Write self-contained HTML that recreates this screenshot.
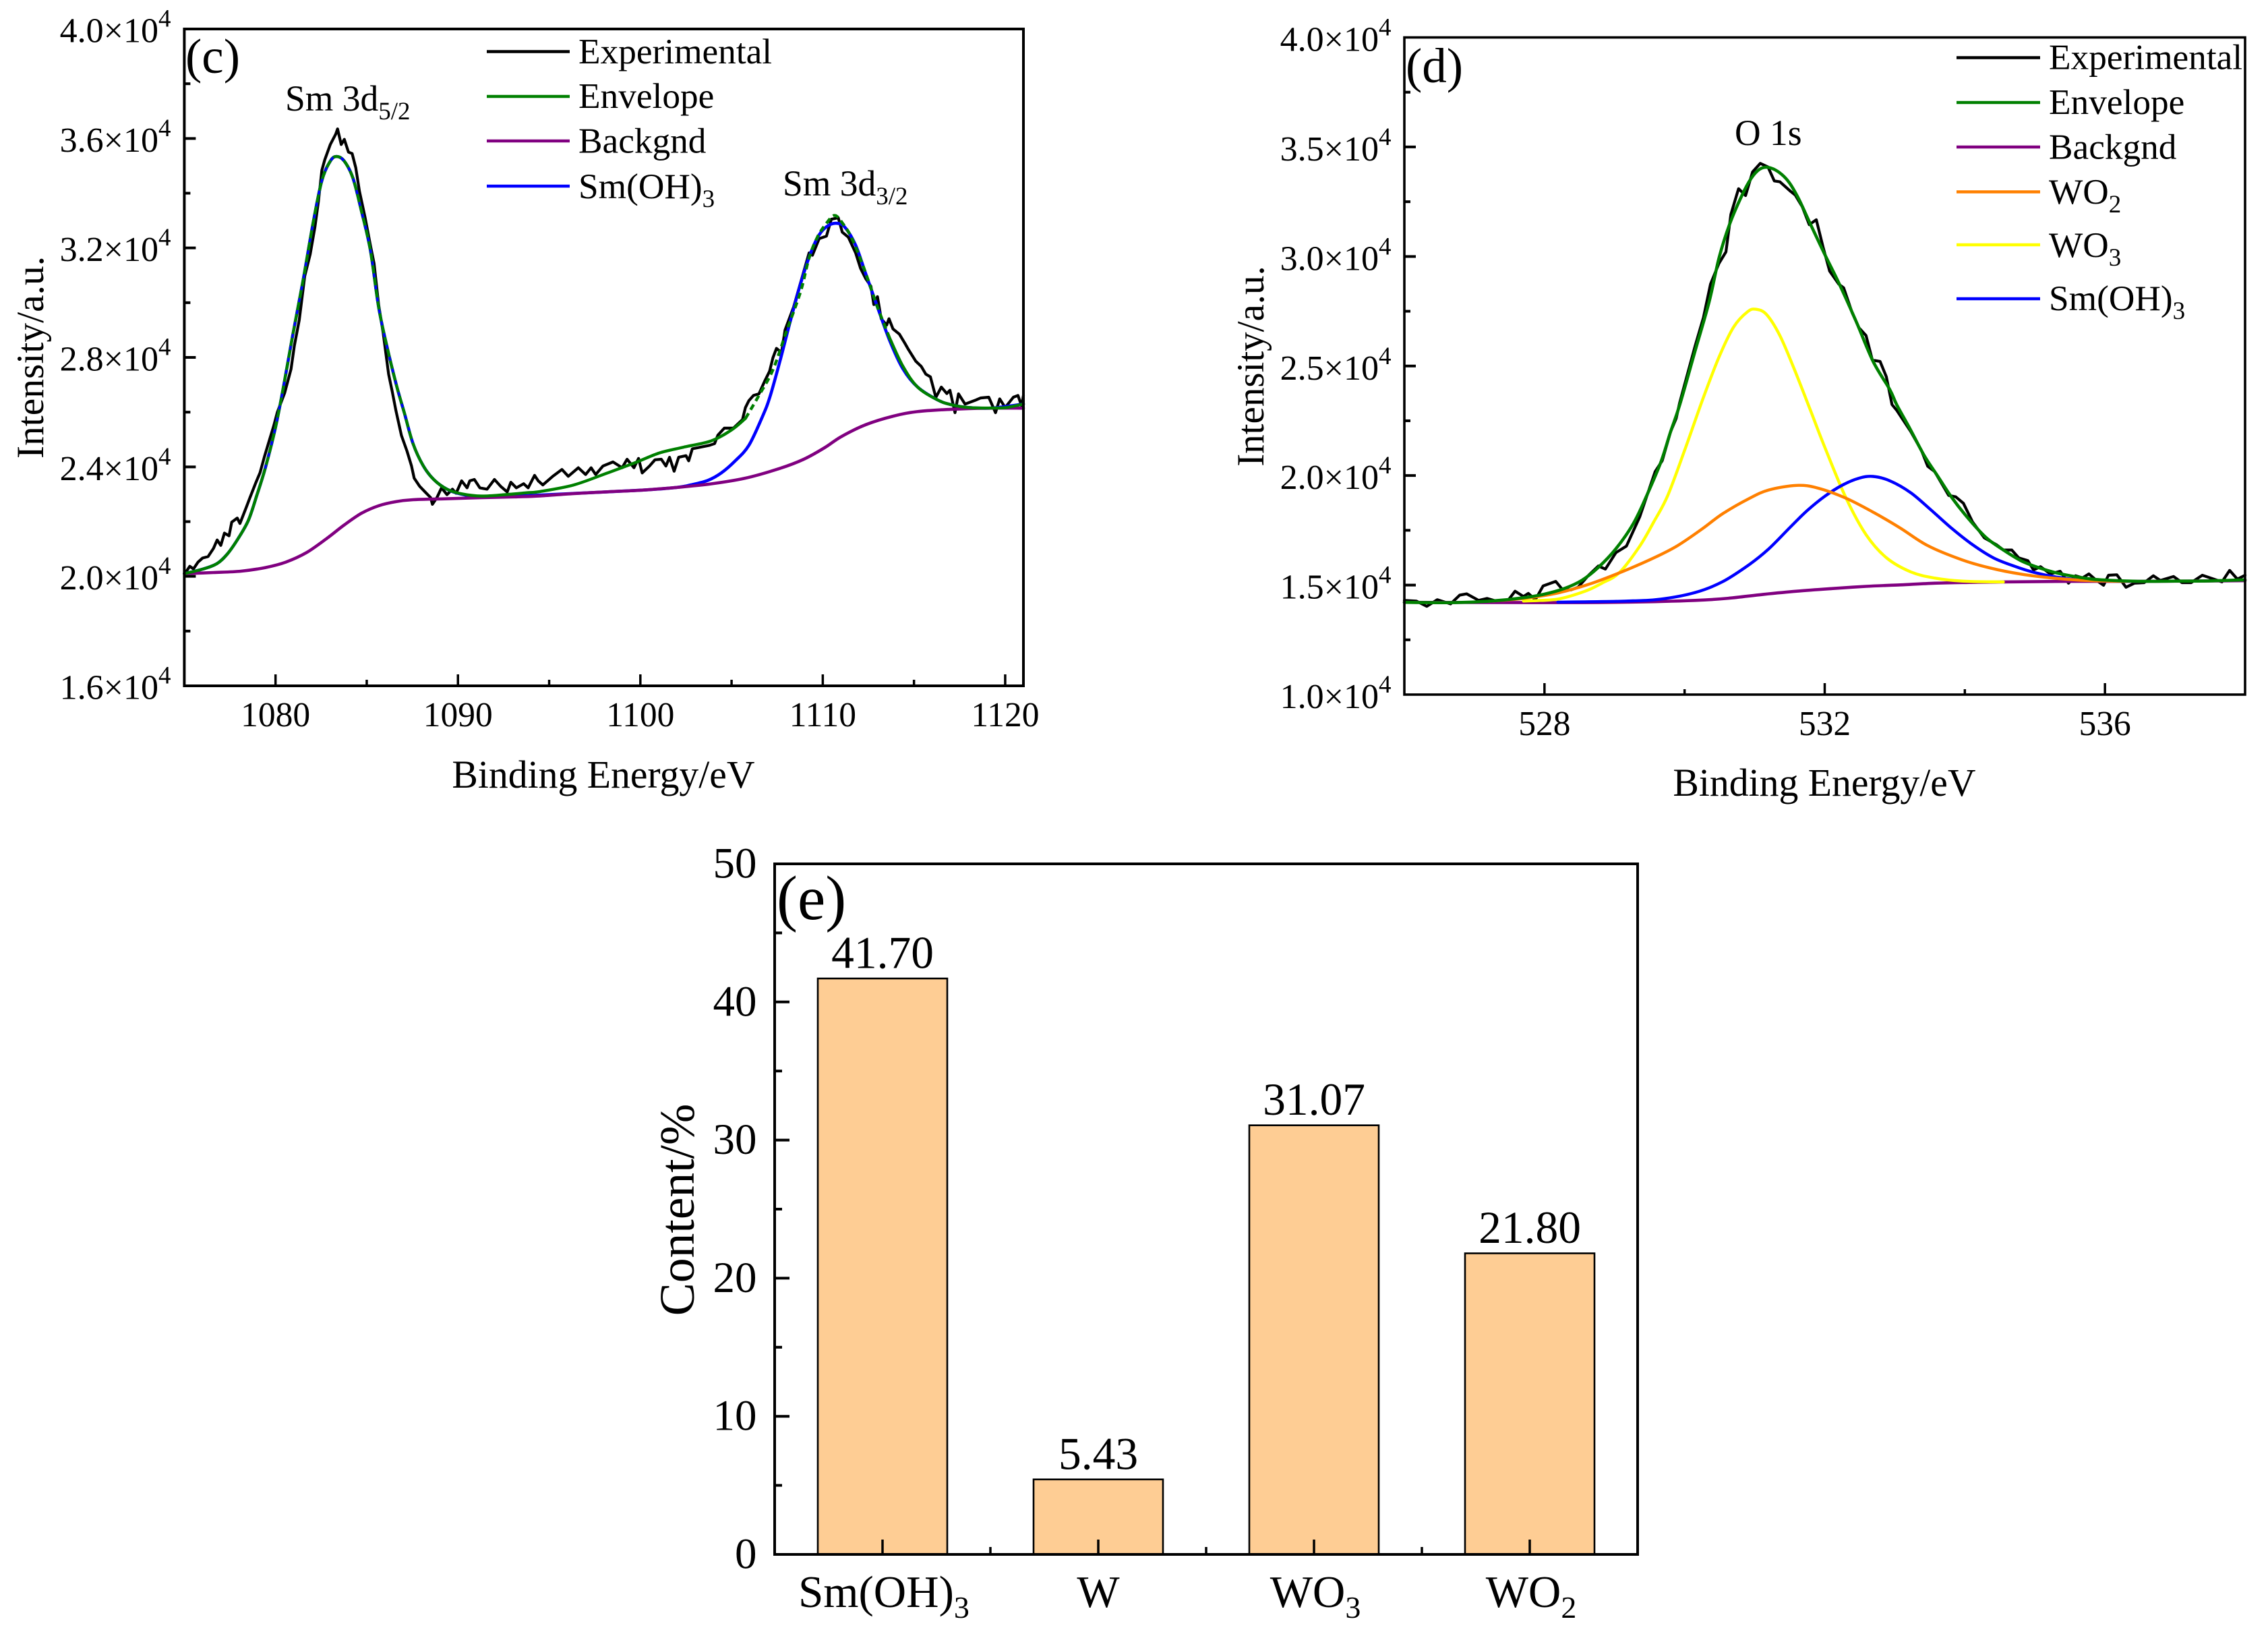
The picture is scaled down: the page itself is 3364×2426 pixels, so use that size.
<!DOCTYPE html>
<html lang="en">
<head>
<meta charset="utf-8">
<title>XPS spectra and composition</title>
<style>
html,body{margin:0;padding:0;background:#fff;}
svg{display:block;}
text{font-family:"Liberation Serif","DejaVu Serif",serif;fill:#000;}
</style>
</head>
<body>
<svg id="fig" xmlns="http://www.w3.org/2000/svg" width="3364" height="2426" viewBox="0 0 3364 2426">
  <rect width="3364" height="2426" fill="#fff"/>
  <g id="panel-c"></g>
  <g id="panel-d"></g>
  <g id="panel-e"></g>

  <g>
    <text x="275" y="108" font-size="73">(c)</text>
    <text x="895" y="1168" font-size="57.7" text-anchor="middle">Binding Energy/eV</text>
    <text transform="translate(64,530) rotate(-90)" font-size="57.5" text-anchor="middle">Intensity/a.u.</text>
    <text x="423" y="164" font-size="53.5">Sm 3d<tspan font-size="37" dy="13">5/2</tspan></text>
    <text x="1161" y="290" font-size="53.5">Sm 3d<tspan font-size="37" dy="13">3/2</tspan></text>
    <g>
      <line x1="722" x2="845" y1="76.5" y2="76.5" stroke="#000" stroke-width="4.4"/>
      <text x="858" y="94" font-size="53.3">Experimental</text>
      <line x1="722" x2="845" y1="143" y2="143" stroke="#008000" stroke-width="4.4"/>
      <text x="858" y="160" font-size="53.3">Envelope</text>
      <line x1="722" x2="845" y1="209" y2="209" stroke="#800080" stroke-width="4.4"/>
      <text x="858" y="226.5" font-size="53.3">Backgnd</text>
      <line x1="722" x2="845" y1="276" y2="276" stroke="#0000ff" stroke-width="4.4"/>
      <text x="858" y="294" font-size="53.3">Sm(OH)<tspan font-size="37" dy="13">3</tspan></text>
    </g>
  </g>

  <g>
    <text x="2085" y="122" font-size="73">(d)</text>
    <text x="2706" y="1180" font-size="57.7" text-anchor="middle">Binding Energy/eV</text>
    <text transform="translate(1874,543) rotate(-90)" font-size="57" text-anchor="middle">Intensity/a.u.</text>
    <text x="2573" y="215" font-size="53.5">O 1s</text>
    <g>
      <line x1="2902" x2="3026" y1="85.5" y2="85.5" stroke="#000" stroke-width="4.4"/>
      <text x="3039" y="102.5" font-size="53.3">Experimental</text>
      <line x1="2902" x2="3026" y1="152" y2="152" stroke="#008000" stroke-width="4.4"/>
      <text x="3039" y="169" font-size="53.3">Envelope</text>
      <line x1="2902" x2="3026" y1="218" y2="218" stroke="#800080" stroke-width="4.4"/>
      <text x="3039" y="235.5" font-size="53.3">Backgnd</text>
      <line x1="2902" x2="3026" y1="284.5" y2="284.5" stroke="#ff8000" stroke-width="4.4"/>
      <text x="3039" y="302" font-size="53.3">WO<tspan font-size="37" dy="13">2</tspan></text>
      <line x1="2902" x2="3026" y1="363" y2="363" stroke="#ffff00" stroke-width="4.4"/>
      <text x="3039" y="381" font-size="53.3">WO<tspan font-size="37" dy="13">3</tspan></text>
      <line x1="2902" x2="3026" y1="443" y2="443" stroke="#0000ff" stroke-width="4.4"/>
      <text x="3039" y="460" font-size="53.3">Sm(OH)<tspan font-size="37" dy="13">3</tspan></text>
    </g>
  </g>

  <g>
    <text x="1152" y="1363" font-size="93">(e)</text>
    <text transform="translate(1029,1794) rotate(-90)" font-size="73.5" text-anchor="middle">Content/%</text>
  </g>
</svg>

<script>
/* ---------- Panel (c) data: Sm 3d ---------- */
const cYTicks = [16000,20000,24000,28000,32000,36000,40000];
const cYMinorTicks = [18000,22000,26000,30000,34000,38000];
const cYTickLabels = ["1.6","2.0","2.4","2.8","3.2","3.6","4.0"];
const cXTicks = [1080,1090,1100,1110,1120];
const cXMinorTicks = [1085,1095,1105,1115];
const cExperimentalX = [1075.1,1075.3,1075.5,1075.75,1076,1076.3,1076.6,1076.8,1077,1077.2,1077.45,1077.6,1077.9,1078.05,1078.4,1078.6,1078.9,1079.15,1079.4,1079.6,1079.9,1080.1,1080.5,1080.85,1081.03,1081.3,1081.6,1081.9,1082.16,1082.35,1082.54,1082.7,1083,1083.3,1083.4,1083.6,1083.77,1084,1084.2,1084.4,1084.6,1084.9,1085.2,1085.4,1085.65,1085.9,1086.2,1086.4,1086.6,1086.9,1087.2,1087.45,1087.6,1087.9,1088.2,1088.5,1088.6,1088.85,1089.1,1089.4,1089.7,1089.9,1090.2,1090.5,1090.65,1090.9,1091.2,1091.6,1092,1092.35,1092.7,1092.9,1093.2,1093.6,1093.85,1094.2,1094.4,1094.65,1095.2,1095.7,1096.05,1096.6,1097,1097.3,1097.55,1097.95,1098.5,1099,1099.27,1099.65,1099.9,1100.1,1100.5,1100.8,1101.15,1101.4,1101.6,1101.85,1102.1,1102.5,1102.65,1102.85,1103.3,1103.8,1104.07,1104.25,1104.6,1105.1,1105.6,1105.76,1105.95,1106.2,1106.5,1106.8,1107.08,1107.27,1107.46,1107.74,1107.93,1108.4,1109.25,1109.43,1109.8,1110.2,1110.47,1110.85,1111.07,1111.4,1111.8,1112.07,1112.35,1112.64,1112.8,1113,1113.2,1113.5,1113.63,1113.85,1114.2,1114.5,1114.7,1115.1,1115.4,1115.65,1115.9,1116.2,1116.5,1116.8,1116.97,1117.25,1117.44,1117.8,1118.4,1118.66,1119.1,1119.47,1119.7,1120,1120.45,1120.7,1120.9,1121];
const cExperimentalY = [20170,20370,20270,20520,20670,20720,21025,21330,21130,21580,21480,21980,22130,21930,22530,22880,23390,23790,24390,24840,25500,26000,26700,27575,28425,29370,30970,31770,32760,33700,34840,35220,35780,36160,36350,35780,35970,35500,35450,34930,34080,33140,32100,31440,29930,28900,27390,26750,26050,25150,24590,24040,23590,23290,23085,22880,22630,22880,23235,22985,23185,23035,23490,23235,23490,23540,23235,23185,23540,23285,23085,23440,23235,23385,23235,23690,23490,23340,23655,23905,23655,23970,23720,23970,23720,24030,24180,23970,24280,23970,24310,23780,24030,24260,24280,24030,24350,23840,24350,24410,24220,24660,24720,24790,24850,25160,25415,25415,25730,26170,26420,26610,26670,27110,27490,27990,28330,28180,29000,29840,31820,31730,32340,32430,33050,33100,32575,32390,31820,31255,30880,30600,29930,30220,29415,29180,29415,29040,28850,28520,28285,27860,27670,27390,27290,26540,26915,26680,26800,25980,26670,26295,26445,26520,26545,25980,26485,26170,26545,26610,26230,26610];
const cEnvelopeX = [1075,1076.04,1076.8,1077.36,1077.9,1078.5,1078.96,1079.43,1080,1080.47,1080.94,1081.5,1082.07,1082.54,1083,1083.35,1083.77,1084.24,1084.7,1085.2,1085.65,1086.1,1086.6,1087.07,1087.54,1088.1,1088.67,1089.4,1090.2,1091.3,1092.6,1093.76,1094.5,1096.35,1098.2,1099.74,1101.05,1102.37,1103.88,1105,1105.76,1106.5,1107.27,1108,1108.78,1109.25,1109.7,1110.2,1110.66,1111.13,1111.6,1112.26,1113,1113.67,1114.4,1115.2,1116.3,1117.06,1118,1119.3,1120.07,1121];
const cEnvelopeY = [20100,20270,20470,20820,21330,22030,22930,23940,25450,27055,28800,30780,32950,34460,35170,35340,35170,34560,33380,31915,29840,28425,27055,25950,24845,24040,23540,23185,23015,22935,22985,23055,23100,23340,23780,24160,24510,24720,24950,25350,25770,26610,27550,28934,30400,31630,32390,32900,33190,32860,32340,31255,29840,28700,27670,26915,26445,26270,26170,26150,26170,26295];
const cBackgndX = [1075,1076.6,1078.1,1079.43,1080.56,1081.7,1082.8,1083.77,1084.7,1085.65,1086.6,1087.54,1089.4,1091.3,1093.2,1094.5,1096.35,1098.2,1100.1,1102,1103.88,1105.76,1107.65,1108.96,1110.1,1111,1112.35,1113.86,1115.18,1117.06,1118.95,1121];
const cBackgndY = [20100,20140,20190,20320,20520,20870,21380,21880,22300,22580,22730,22800,22835,22875,22905,22940,23025,23090,23150,23250,23380,23590,23945,24280,24700,25100,25540,25855,26020,26105,26145,26145];
const cSmOHX = [1075,1076.04,1076.8,1077.36,1077.9,1078.5,1078.96,1079.43,1080,1080.47,1080.94,1081.5,1082.07,1082.54,1083,1083.35,1083.77,1084.24,1084.7,1085.2,1085.65,1086.1,1086.6,1087.07,1087.54,1088.1,1088.67,1089.4,1090.2,1091.3,1093.2,1096.35,1100.1,1102,1102.75,1103.7,1104.44,1105.2,1105.95,1106.7,1107.1,1107.65,1108.2,1108.78,1109.34,1109.8,1110.28,1110.75,1111.2,1111.8,1112.35,1113,1113.67,1114.4,1115.2,1116.3,1117.06,1118,1119.3,1121];
const cSmOHY = [20100,20270,20470,20820,21330,22030,22930,23940,25450,27055,28800,30780,32950,34460,35170,35340,35170,34560,33380,31915,29840,28425,27055,25950,24845,24040,23540,23185,23000,22900,22930,23030,23150,23250,23340,23505,23780,24220,24790,25850,26550,27860,29275,30690,31820,32480,32810,32900,32765,32100,31065,29840,28610,27575,26915,26445,26270,26170,26150,26295];

/* ---------- Panel (d) data: O 1s ---------- */
const dYTicks = [10000,15000,20000,25000,30000,35000,40000];
const dYMinorTicks = [12500,17500,22500,27500,32500,37500];
const dYTickLabels = ["1.0","1.5","2.0","2.5","3.0","3.5","4.0"];
const dXTicks = [528,532,536];
const dXMinorTicks = [530,534];
const dExperimentalX = [526,526.17,526.32,526.47,526.66,526.79,526.89,527.06,527.18,527.35,527.48,527.58,527.7,527.77,527.87,527.98,528.16,528.26,528.38,528.48,528.63,528.77,528.87,529.02,529.17,529.36,529.58,529.68,529.8,529.88,529.93,530.15,530.27,530.37,530.49,530.59,530.66,530.77,530.87,530.97,531.08,531.19,531.28,531.36,531.51,531.58,531.68,531.78,531.88,531.98,532.07,532.2,532.27,532.39,532.49,532.59,532.68,532.79,532.88,532.96,533.03,533.23,533.38,533.47,533.57,533.77,533.87,533.98,534.11,534.28,534.45,534.55,534.67,534.77,534.9,534.98,535.08,535.22,535.36,535.48,535.58,535.68,535.77,535.88,535.98,536.05,536.17,536.3,536.42,536.56,536.69,536.79,536.98,537.1,537.23,537.39,537.67,537.78,537.89,538];
const dExperimentalY = [14300,14270,14030,14330,14140,14540,14600,14300,14390,14235,14300,14720,14480,14620,14330,14960,15170,14780,14780,14900,15450,15870,15730,16480,16780,18120,20180,20670,22000,22610,23330,25920,27220,28740,29680,30210,31920,33095,32780,33860,34250,34090,33450,33410,32980,32800,32270,31450,31680,30390,29330,28740,28570,27450,26740,26390,25270,25210,24510,23240,22970,22000,21150,20420,20180,19090,19030,18730,17880,17150,16845,16600,16600,16240,16115,15690,15840,15510,15630,15085,15425,15330,15510,15210,14990,15450,15470,14900,15085,15110,15425,15210,15390,15110,15110,15450,15145,15670,15270,15450];
const dEnvelopeX = [526,526.7,527.2,527.7,527.99,528.28,528.53,528.77,529.02,529.27,529.46,529.66,529.8,529.93,530.15,530.35,530.49,530.64,530.82,530.95,531.07,531.19,531.34,531.49,531.63,531.8,532,532.2,532.44,532.69,532.93,533.03,533.23,533.42,533.62,533.82,534.06,534.31,534.55,534.8,535.04,535.29,535.53,535.82,536.12,536.51,537,537.49,538];
const dEnvelopeY = [14210,14200,14260,14420,14580,14840,15210,15810,16660,17815,19090,20600,22000,23220,25690,27920,29920,31450,32800,33565,33980,34070,33860,33390,32620,31450,30100,28800,27100,25215,23920,23220,22060,20910,19940,18970,18000,17150,16600,16115,15810,15570,15410,15270,15210,15170,15180,15190,15240];
const dBackgndX = [526,528.19,529.17,530.15,530.63,531.12,531.6,532.1,532.59,533.08,533.57,534.06,534.55,535.53,536.51,538];
const dBackgndY = [14210,14200,14220,14300,14400,14575,14720,14840,14940,15010,15085,15120,15145,15170,15170,15200];
const dWO2X = [527.2,527.7,528.19,528.68,529.17,529.6,529.9,530.25,530.54,530.92,531.2,531.6,531.9,532.3,532.69,533.08,533.47,533.96,534.36,534.8,535.29,535.78,536.3];
const dWO2Y = [14260,14390,14640,15085,15690,16300,16800,17560,18250,18950,19340,19550,19430,18970,18330,17600,16800,16150,15780,15500,15310,15200,15170];
const dWO3X = [527.7,528.19,528.58,528.82,529.07,529.36,529.56,529.76,530,530.25,530.49,530.7,530.9,531.02,531.17,531.36,531.56,531.8,532,532.3,532.59,532.88,533.23,533.57,533.96,534.55];
const dWO3Y = [14270,14360,14720,15085,15570,16780,17880,19090,21150,23400,25400,26780,27480,27590,27350,26390,24900,22950,21300,19000,17300,16250,15600,15320,15180,15145];
const dSmOHX = [528.19,529.17,529.66,530.15,530.54,530.92,531.2,531.51,531.75,532,532.25,532.49,532.69,532.93,533.23,533.52,533.82,534.11,534.41,534.7,535,535.34,535.73,536.3];
const dSmOHY = [14220,14270,14360,14660,15150,15930,16650,17650,18400,19050,19560,19880,19960,19760,19210,18420,17570,16845,16240,15870,15570,15350,15210,15170];

/* ---------- Panel (e) data: content bars ---------- */
const eCategories = ["Sm(OH)","W","WO","WO"];
const eCategorySubscripts = ["3","","3","2"];
const eValues = [41.70,5.43,31.07,21.80];
const eValueLabels = ["41.70","5.43","31.07","21.80"];
const eYTicks = [0,10,20,30,40,50];
const eYMinorTicks = [5,15,25,35,45];
const eXMinorTicks = [1.5,2.5,3.5];

/* ---------- helpers ---------- */
const NS = 'http://www.w3.org/2000/svg';
function linear(d0,d1,r0,r1){ return v => r0 + (v-d0)*(r1-r0)/(d1-d0); }
function mk(tag,parent,attrs,name){
  const el = document.createElementNS(NS,tag);
  for(const k in attrs) el.setAttribute(k,attrs[k]);
  
  
  parent.appendChild(el);
  return el;
}
function polyPath(pts){
  return pts.map((p,i)=>(i?'L':'M')+p[0].toFixed(1)+' '+p[1].toFixed(1)).join('');
}
function smoothPath(pts){
  if(pts.length<3) return polyPath(pts);
  let d='M'+pts[0][0].toFixed(1)+' '+pts[0][1].toFixed(1);
  for(let i=0;i<pts.length-1;i++){
    const p0=pts[Math.max(0,i-1)],p1=pts[i],p2=pts[i+1],p3=pts[Math.min(pts.length-1,i+2)];
    const c1=[p1[0]+(p2[0]-p0[0])/6,p1[1]+(p2[1]-p0[1])/6];
    const c2=[p2[0]-(p3[0]-p1[0])/6,p2[1]-(p3[1]-p1[1])/6];
    d+='C'+c1[0].toFixed(1)+' '+c1[1].toFixed(1)+' '+c2[0].toFixed(1)+' '+c2[1].toFixed(1)+' '+p2[0].toFixed(1)+' '+p2[1].toFixed(1);
  }
  return d;
}
function series(parent,xs,ys,sx,sy,opts,name,from,to){
  let pts=[];
  xs.forEach((x,i)=>{ if((from===undefined||x>=from)&&(to===undefined||x<=to)) pts.push([sx(x),sy(ys[i])]); });
  const attrs={d:(opts.smooth?smoothPath(pts):polyPath(pts)),fill:'none',stroke:opts.color,'stroke-width':opts.width,'stroke-linejoin':'round','stroke-linecap':opts.dash?'butt':'round'};
  if(opts.dash) attrs['stroke-dasharray']=opts.dash;
  return mk('path',parent,attrs,name);
}
function yTickLabel(parent,x,y,mant,fs,supFs,supDy,name){
  const t=mk('text',parent,{x:x,y:y,'font-size':fs,'text-anchor':'end'},name);
  t.appendChild(document.createTextNode(mant+'\u00d710'));
  const s=document.createElementNS(NS,'tspan');
  s.setAttribute('font-size',supFs);
  s.setAttribute('dy',supDy);
  s.textContent='4';
  t.appendChild(s);
  return t;
}
function frame(g,L,T,R,B,w,name){
  mk('rect',g,{x:L,y:T,width:R-L,height:B-T,fill:'none',stroke:'#000','stroke-width':w},name);
}
function ticks(g,vals,fn,len,w,name){
  vals.forEach(v=>{
    const a=fn(v,len);
    mk('line',g,{x1:a[0],y1:a[1],x2:a[2],y2:a[3],stroke:'#000','stroke-width':w},name);
  });
}

/* ---------- Panel (c) ---------- */
(function(){
  const g=document.getElementById('panel-c');
  const L=273.4,R=1518,T=43,B=1017;
  const sx=linear(1075,1121,L,R), sy=linear(16000,40000,B,T);
  series(g,cExperimentalX,cExperimentalY,sx,sy,{color:'#000',width:4.2},'experimental-line');
  series(g,cSmOHX,cSmOHY,sx,sy,{color:'#0000ff',width:4.6,smooth:true},'smoh3-line');
  series(g,cBackgndX,cBackgndY,sx,sy,{color:'#800080',width:4.6,smooth:true},'backgnd-line');
  series(g,cEnvelopeX,cEnvelopeY,sx,sy,{color:'#008000',width:4.4,smooth:true},'envelope-line-left',undefined,1105.76);
  series(g,cEnvelopeX,cEnvelopeY,sx,sy,{color:'#008000',width:4.4,smooth:true,dash:'9 6'},'envelope-line-dashed',1105.76,1113.67);
  series(g,cEnvelopeX,cEnvelopeY,sx,sy,{color:'#008000',width:4.4,smooth:true},'envelope-line-right',1113.67);
  series(g,cSmOHX,cSmOHY,sx,sy,{color:'#0000ff',width:3.4,smooth:true,dash:'6 12'},'smoh3-overlap-dashes',1079,1087.54);
  frame(g,L,T,R,B,4,'panel-c-plot-frame');
  ticks(g,cYTicks.slice(1,-1),(v,l)=>[L,sy(v),L+l,sy(v)],17,4,'y-major-tick');
  ticks(g,cYMinorTicks,(v,l)=>[L,sy(v),L+l,sy(v)],9,4,'y-minor-tick');
  ticks(g,cXTicks,(v,l)=>[sx(v),B,sx(v),B-l],17,3.5,'x-major-tick');
  ticks(g,cXMinorTicks,(v,l)=>[sx(v),B,sx(v),B-l],9,3.5,'x-minor-tick');
  cYTicks.forEach((v,i)=>yTickLabel(g,253.5,sy(v)+19.5,cYTickLabels[i],52,37,-23,'y-tick-label'));
  cXTicks.forEach(v=>{
    const t=mk('text',g,{x:sx(v),y:1077,'font-size':51.5,'text-anchor':'middle'},'x-tick-label');
    t.textContent=String(v);
  });
})();

/* ---------- Panel (d) ---------- */
(function(){
  const g=document.getElementById('panel-d');
  const L=2083,R=3330,T=55.5,B=1030;
  const sx=linear(526,538,L,R), sy=linear(10000,40000,B,T);
  series(g,dExperimentalX,dExperimentalY,sx,sy,{color:'#000',width:4.2},'experimental-line');
  series(g,dBackgndX,dBackgndY,sx,sy,{color:'#800080',width:4.6,smooth:true},'backgnd-line');
  series(g,dWO3X,dWO3Y,sx,sy,{color:'#ffff00',width:4.4,smooth:true},'wo3-line');
  series(g,dSmOHX,dSmOHY,sx,sy,{color:'#0000ff',width:4.4,smooth:true},'smoh3-line');
  series(g,dWO2X,dWO2Y,sx,sy,{color:'#ff8000',width:4.4,smooth:true},'wo2-line');
  series(g,dEnvelopeX,dEnvelopeY,sx,sy,{color:'#008000',width:4.6,smooth:true},'envelope-line');
  frame(g,L,T,R,B,3.6,'panel-d-plot-frame');
  ticks(g,dYTicks.slice(1,-1),(v,l)=>[L,sy(v),L+l,sy(v)],17,4,'y-major-tick');
  ticks(g,dYMinorTicks,(v,l)=>[L,sy(v),L+l,sy(v)],9,4,'y-minor-tick');
  ticks(g,dXTicks,(v,l)=>[sx(v),B,sx(v),B-l],17,3.5,'x-major-tick');
  ticks(g,dXMinorTicks,(v,l)=>[sx(v),B,sx(v),B-l],8,3.5,'x-minor-tick');
  dYTicks.forEach((v,i)=>yTickLabel(g,2063.5,sy(v)+20,dYTickLabels[i],52,37,-23,'y-tick-label'));
  dXTicks.forEach(v=>{
    const t=mk('text',g,{x:sx(v),y:1090,'font-size':51.5,'text-anchor':'middle'},'x-tick-label');
    t.textContent=String(v);
  });
})();

/* ---------- Panel (e) ---------- */
(function(){
  const g=document.getElementById('panel-e');
  const L=1149,R=2429,T=1281,B=2305;
  const sx=linear(0.5,4.5,L,R), sy=linear(0,50,B,T);
  const barW=0.6;
  eValues.forEach((v,i)=>{
    const c=i+1;
    mk('rect',g,{x:sx(c-barW/2),y:sy(v),width:sx(c+barW/2)-sx(c-barW/2),height:B-sy(v),fill:'#fecd94',stroke:'#000','stroke-width':2.6},'bar-'+eCategories[i].toLowerCase().replace(/[^a-z]/g,'')+eCategorySubscripts[i]);
    const lab=mk('text',g,{x:sx(c),y:sy(v)-15.5,'font-size':67.5,'text-anchor':'middle'},'bar-value-label');
    lab.textContent=eValueLabels[i];
    const t=mk('text',g,{x:sx(c)+(eCategorySubscripts[i]?2:0),y:2383,'font-size':67,'text-anchor':'middle'},'x-tick-label');
    t.appendChild(document.createTextNode(eCategories[i]));
    if(eCategorySubscripts[i]){
      const s=document.createElementNS(NS,'tspan');
      s.setAttribute('font-size',46);
      s.setAttribute('dy',16);
      s.textContent=eCategorySubscripts[i];
      t.appendChild(s);
    }
  });
  frame(g,L,T,R,B,4,'panel-e-plot-frame');
  ticks(g,eYTicks.slice(1,-1),(v,l)=>[L,sy(v),L+l,sy(v)],22,4,'y-major-tick');
  ticks(g,eYMinorTicks,(v,l)=>[L,sy(v),L+l,sy(v)],11,4,'y-minor-tick');
  ticks(g,eValues.map((v,i)=>i+1),(v,l)=>[sx(v),B,sx(v),B-l],22,3.5,'x-major-tick');
  ticks(g,eXMinorTicks,(v,l)=>[sx(v),B,sx(v),B-l],11,3.5,'x-minor-tick');
  eYTicks.forEach(v=>{
    const t=mk('text',g,{x:1122.5,y:sy(v)+20.5,'font-size':65,'text-anchor':'end'},'y-tick-label');
    t.textContent=String(v);
  });
})();
</script>
</body>
</html>
